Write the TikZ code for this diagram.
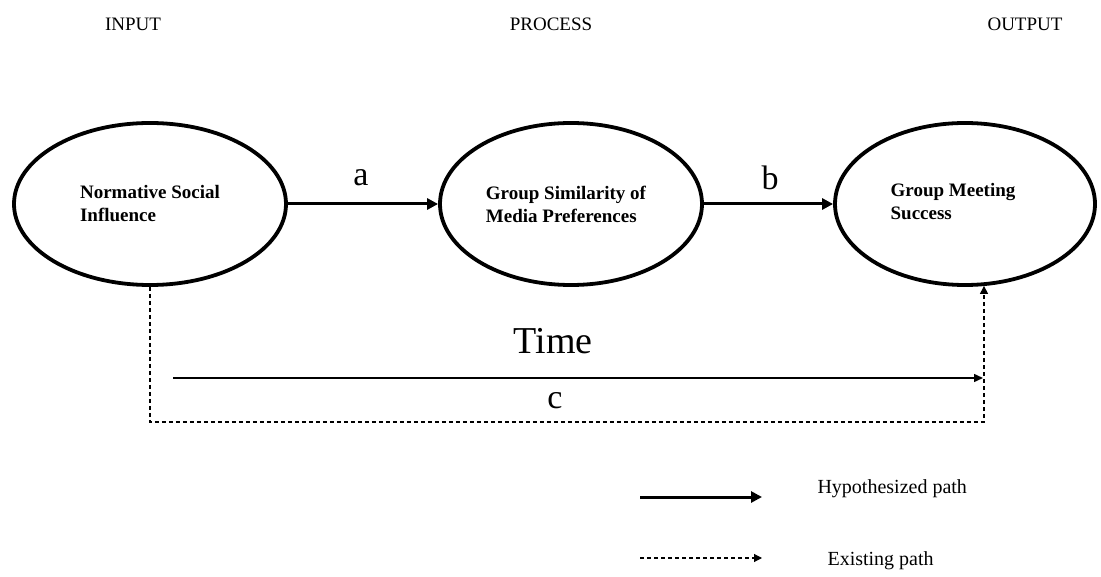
\documentclass[tikz,border=0pt]{standalone}
\usepackage{fontspec}
\setmainfont{Liberation Serif}
\usetikzlibrary{shapes.geometric,arrows.meta,calc}
\begin{document}
\begin{tikzpicture}[x=1pt,y=-1pt,
  oval/.style={ellipse,draw,line width=3.8pt,minimum width=272pt,minimum height=162pt,inner sep=0pt,align=left,font=\fontsize{19}{23}\selectfont\bfseries},
  hdr/.style={font=\fontsize{19}{21}\selectfont},
  biglab/.style={font=\fontsize{34}{36}\selectfont},
  hyp/.style={line width=3pt,-{Triangle[length=11pt,width=11pt]}},
  exi/.style={line width=1.1pt,dash pattern=on 4pt off 3pt,-{Triangle[length=8pt,width=8pt]}},
  leg/.style={font=\fontsize{20}{22}\selectfont,anchor=west}]
\useasboundingbox (0,0) rectangle (1101,577);
\node[hdr] (hin) at (133,24) {INPUT};
\node[hdr] (hpr) at (551,24) {PROCESS};
\node[hdr] (hout) at (1025,24) {OUTPUT};
\node[oval] (nsi) at (150,204) {Normative Social\\Influence};
\node[oval,minimum width=262pt] (gsm) at (571,204) {Group Similarity of\hspace*{10pt}\\Media Preferences};
\node[oval,minimum width=260pt] (gms) at (965,204) {Group Meeting\hspace*{24pt}\\Success\phantom{g}};
\draw[hyp] (nsi.east) -- (gsm.west);
\draw[hyp] (gsm.east) -- (gms.west);
\node[biglab] (la) at (361,178) {a};
\node[biglab] (lb) at (770,178) {b};
\coordinate (rb) at ($(gms.south)+(19,-1)$);
\coordinate (lb1) at (150,422);
\coordinate (rb1) at (984,422);
\draw[exi] (nsi.south) -- (lb1) -- (rb1) -- (rb);
\coordinate (ts) at (173,378);
\coordinate (te) at (983,378);
\draw[line width=1.5pt,-{Triangle[length=9pt,width=8pt]}] (ts) -- (te);
\node[font=\fontsize{38}{40}\selectfont] (time) at (553,341) {Time};
\node[biglab] (lc) at (555,401) {c};
\coordinate (l1s) at (640,497);
\coordinate (l1e) at (762,497);
\draw[hyp] (l1s) -- (l1e);
\node[leg] (lh) at (814,489) {Hypothesized path};
\coordinate (l2s) at (640,558);
\coordinate (l2e) at (762,558);
\draw[exi] (l2s) -- (l2e);
\node[leg] (le) at (824,561) {Existing path};
\end{tikzpicture}
\end{document}
